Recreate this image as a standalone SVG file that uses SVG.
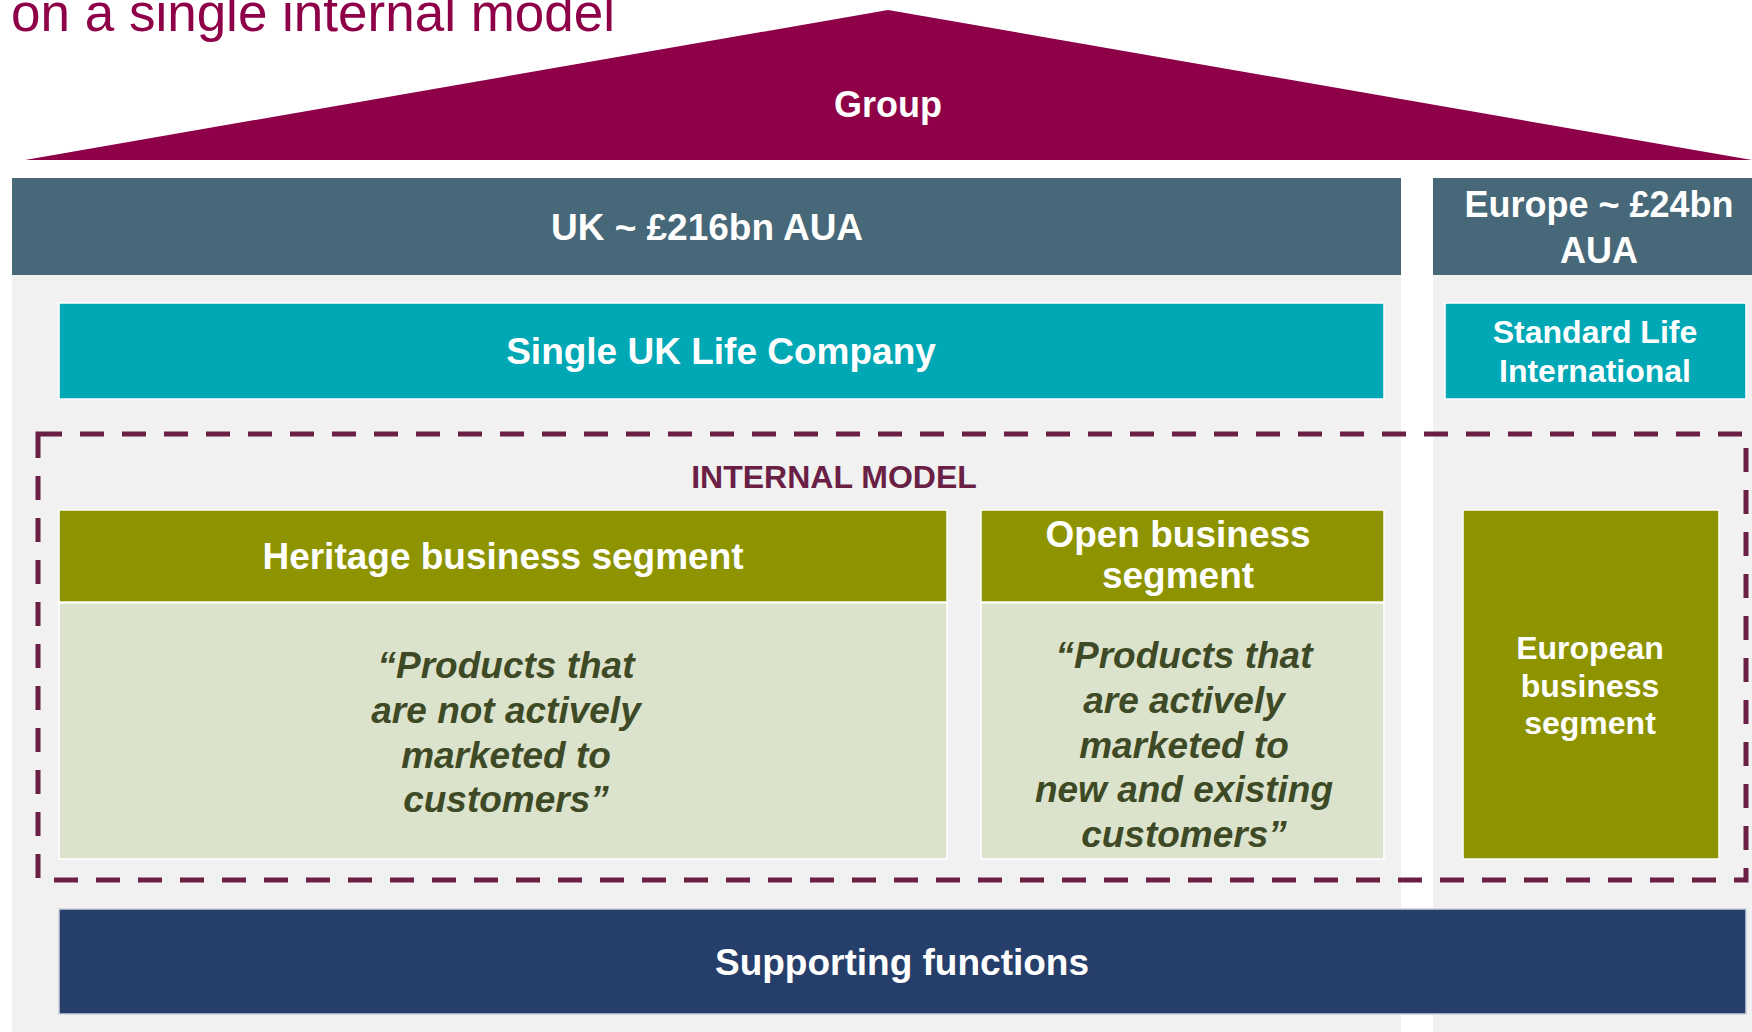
<svg xmlns="http://www.w3.org/2000/svg" width="1752" height="1032" viewBox="0 0 1752 1032">
  <style>
    text { font-family: "Liberation Sans", Arial, sans-serif; text-anchor: middle; }
    .w { fill: #FFFFFF; font-weight: bold; }
    .q { fill: #3E4A25; font-weight: bold; font-style: italic; font-size: 37px; }
    .bar { fill: #466879; }
    .panel { fill: #F1F1F1; }
    .cyan { fill: #00A8B5; stroke: #FFFFFF; stroke-width: 1.5; }
    .olive { fill: #8D9400; stroke: #FFFFFF; stroke-width: 1.5; }
    .body { fill: #DCE3CC; stroke: #FFFFFF; stroke-width: 1.5; }
    .navy { fill: #263F6A; stroke: #C9D0DC; stroke-width: 1.5; }
  </style>
  <rect width="1752" height="1032" fill="#FFFFFF"/>
  <text x="11" y="31" style="text-anchor:start; font-size:53px; fill:#8E0048;">on a single internal model</text>

  <g id="group">
    <polygon points="25,160 888,10 1752,160" fill="#8E0048"/>
    <text class="w" x="888" y="117" font-size="36">Group</text>
  </g>

  <g id="panels">
    <rect class="panel" x="12" y="275" width="1389" height="757"/>
    <rect class="panel" x="1433" y="275" width="319" height="757"/>
  </g>

  <g id="uk">
    <rect class="bar" x="12" y="178" width="1389" height="97"/>
    <text class="w" x="707" y="240" font-size="37">UK ~ £216bn AUA</text>
  </g>

  <g id="europe">
    <rect class="bar" x="1433" y="178" width="330" height="97"/>
    <text class="w" x="1599" y="217" font-size="36">Europe ~ £24bn</text>
    <text class="w" x="1599" y="263" font-size="36">AUA</text>
  </g>

  <g id="single-uk-life">
    <rect class="cyan" x="59" y="303" width="1325" height="96"/>
    <text class="w" x="721" y="364" font-size="37">Single UK Life Company</text>
  </g>

  <g id="sli">
    <rect class="cyan" x="1445" y="303" width="301" height="96"/>
    <text class="w" x="1595" y="343" font-size="32">Standard Life</text>
    <text class="w" x="1595" y="382" font-size="32">International</text>
  </g>

  <g id="internal-model">
    <rect x="38" y="434" width="1708" height="446" fill="none" stroke="#6A1F45" stroke-width="5" stroke-dasharray="24 18"/>
    <text x="834" y="488" font-size="32" style="font-weight:bold; fill:#6A1F45;">INTERNAL MODEL</text>
  </g>

  <g id="heritage">
    <rect class="olive" x="59" y="510" width="888" height="92"/>
    <rect class="body" x="59" y="603" width="888" height="256"/>
    <text class="w" x="503" y="569" font-size="37">Heritage business segment</text>
    <text class="q" x="506" y="678">“Products that</text>
    <text class="q" x="506" y="723">are not actively</text>
    <text class="q" x="506" y="768">marketed to</text>
    <text class="q" x="506" y="812">customers”</text>
  </g>

  <g id="open">
    <rect class="olive" x="981" y="510" width="403" height="92"/>
    <rect class="body" x="981" y="603" width="403" height="256"/>
    <text class="w" x="1178" y="547" font-size="37">Open business</text>
    <text class="w" x="1178" y="588" font-size="37">segment</text>
    <text class="q" x="1184" y="668">“Products that</text>
    <text class="q" x="1184" y="713">are actively</text>
    <text class="q" x="1184" y="758">marketed to</text>
    <text class="q" x="1184" y="802">new and existing</text>
    <text class="q" x="1184" y="847">customers”</text>
  </g>

  <g id="european">
    <rect class="olive" x="1463" y="510" width="256" height="349"/>
    <text class="w" x="1590" y="659" font-size="32">European</text>
    <text class="w" x="1590" y="697" font-size="32">business</text>
    <text class="w" x="1590" y="734" font-size="32">segment</text>
  </g>

  <g id="supporting">
    <rect class="navy" x="59" y="909" width="1687" height="105"/>
    <text class="w" x="902" y="975" font-size="37">Supporting functions</text>
  </g>

  <g id="connectors"></g>
</svg>
